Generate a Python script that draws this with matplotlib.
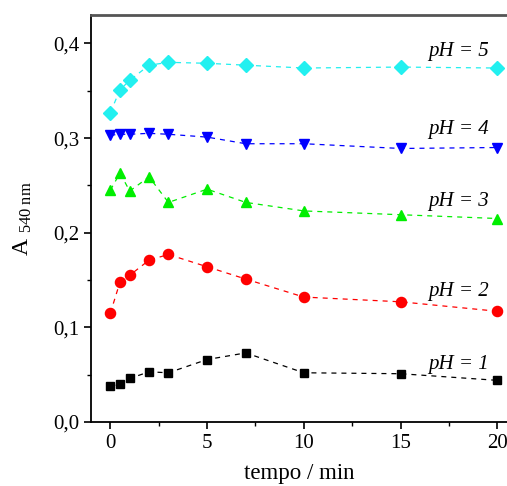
import numpy as np
import matplotlib
matplotlib.use('Agg')
import matplotlib.pyplot as plt
from matplotlib.ticker import MultipleLocator, FuncFormatter

plt.rcParams['font.family'] = 'Liberation Serif'
plt.rcParams['mathtext.fontset'] = 'custom'
plt.rcParams['mathtext.rm'] = 'Liberation Serif'
plt.rcParams['mathtext.it'] = 'Liberation Serif:italic'

# tempo (min)
tempo = [0, 0.5, 1, 2, 3, 5, 7, 10, 15, 20]

# absorbance at 540 nm for each pH
abs_ph1 = [0.038, 0.040, 0.046, 0.053, 0.052, 0.066, 0.073, 0.052, 0.051, 0.044]
abs_ph2 = [0.115, 0.148, 0.155, 0.171, 0.177, 0.164, 0.151, 0.132, 0.127, 0.117]
abs_ph3 = [0.245, 0.263, 0.244, 0.259, 0.232, 0.246, 0.232, 0.223, 0.219, 0.215]
abs_ph4 = [0.303, 0.304, 0.304, 0.305, 0.304, 0.301, 0.294, 0.294, 0.289, 0.290]
abs_ph5 = [0.327, 0.351, 0.361, 0.377, 0.380, 0.379, 0.377, 0.374, 0.375, 0.374]

labels = ['pH = 1', 'pH = 2', 'pH = 3', 'pH = 4', 'pH = 5']
label_y = [0.061, 0.138, 0.233, 0.309, 0.3915]

series = [abs_ph1, abs_ph2, abs_ph3, abs_ph4, abs_ph5]
colors = ['black', '#ff0000', '#00ee00', '#0000ff', '#22f0f0']
markers = ['s', 'o', '^', 'v', 'D']
msizes = [6.3, 7.3, 7.8, 7.8, 7]

fig = plt.figure(figsize=(5.07, 4.86), dpi=100)
ax = fig.add_axes([0.1795, 0.1317, 0.8205, 0.8374])

for y, c, m, ms in zip(series, colors, markers, msizes):
    ax.plot(tempo, y, linestyle=(0, (4, 4)), color=c, linewidth=0.9,
            marker=m, markersize=ms, markeredgecolor=c, markerfacecolor=c)

for lab, ly in zip(labels, label_y):
    ax.text(18.0, ly, lab, fontsize=15, style='italic', ha='center', va='center')

ax.set_xlim(-1, 20.5)
ax.set_ylim(0, 0.43)
ax.xaxis.set_major_locator(MultipleLocator(5))
ax.xaxis.set_minor_locator(MultipleLocator(2.5))
ax.yaxis.set_major_locator(MultipleLocator(0.1))
ax.yaxis.set_minor_locator(MultipleLocator(0.05))
ax.yaxis.set_major_formatter(FuncFormatter(lambda v, p: ('%.1f' % v).replace('.', ',')))
ax.tick_params(which='major', direction='out', length=5, width=1.2, labelsize=15)
ax.tick_params(which='minor', direction='out', length=3, width=1.0)

ax.spines['right'].set_visible(False)
ax.spines['top'].set_color('#555555')
ax.spines['top'].set_linewidth(2)
ax.spines['left'].set_linewidth(1.3)
ax.spines['bottom'].set_linewidth(1.3)

ax.set_xlabel('tempo / min', fontsize=16.5, labelpad=7)
ax.set_ylabel(r'A $_{\mathrm{540\ nm}}$', fontsize=17, labelpad=14)

fig.savefig('out.png', dpi=100)
